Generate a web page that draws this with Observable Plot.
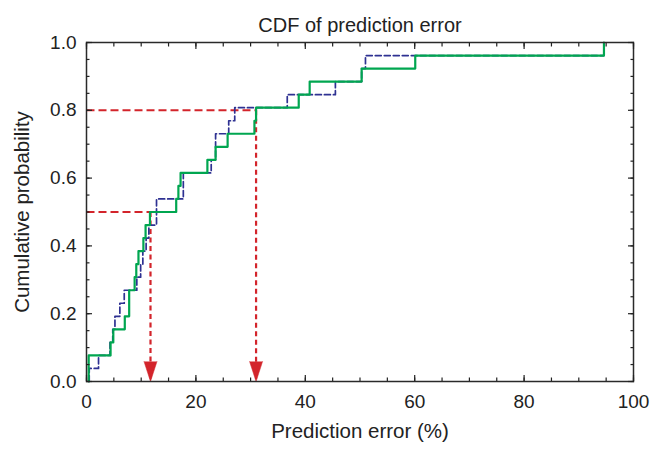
<!DOCTYPE html>
<html><head><meta charset="utf-8">
<script src="https://cdn.jsdelivr.net/npm/d3@7"></script>
<script src="https://cdn.jsdelivr.net/npm/@observablehq/plot@0.6"></script>
<style>body{margin:0;background:#fff} svg{display:block}</style>
</head><body><div id="chart"></div>
<script>
const title = "CDF of prediction error";
const xLabel = "Prediction error (%)";
const yLabel = "Cumulative probability";
const xTickValues = [0, 20, 40, 60, 80, 100];
const yTickValues = [0, 0.2, 0.4, 0.6, 0.8, 1.0];
const xMinorTicks = [0,5,10,15,20,25,30,35,40,45,50,55,60,65,70,75,80,85,90,95,100];
const yMinorTicks = [0,0.05,0.1,0.15,0.2,0.25,0.3,0.35,0.4,0.45,0.5,0.55,0.6,0.65,0.7,0.75,0.8,0.85,0.9,0.95,1.0];

// sorted prediction errors (%) of the two series (26 samples each)
const greenErrors = [0.4, 0.4, 4.4, 4.9, 7.0, 7.8, 7.8, 8.8, 9.1, 9.5, 10.4, 10.8, 11.6,
  16.4, 16.8, 17.2, 22.1, 23.6, 25.8, 30.7, 31.0, 38.8, 40.8, 50.3, 60.1, 94.6];
const blueErrors = [0.5, 2.2, 4.3, 4.8, 5.2, 6.1, 6.9, 9.2, 9.9, 10.3, 10.9, 11.4, 12.8,
  12.8, 17.7, 17.7, 22.8, 23.6, 23.6, 26.0, 27.1, 36.7, 45.5, 50.3, 51.0, 94.6];

// reading markers: probability level -> error
const markerProb = [0.5, 0.8];
const markerError = [11.7, 31.0];

const GREEN = "#00a650", BLUE = "#2e3192", RED = "#d3242b";
const FONT = "'Liberation Sans', Arial, Helvetica, sans-serif";

function cdf(errs) {
  const n = errs.length;
  const pts = [{x: errs[0], y: 0}];
  errs.forEach((e, i) => pts.push({x: e, y: (i + 1) / n}));
  return pts;
}
const markers = markerProb.map((p, i) => ({p, e: markerError[i]}));
const xMajor = xTickValues;
const yMajor = yTickValues;

const chart = Plot.plot({
  width: 655, height: 449,
  marginTop: 42, marginRight: 22, marginBottom: 68, marginLeft: 86,
  style: {fontFamily: FONT, fontSize: "19px", color: "#222", background: "#fff"},
  x: {domain: [0, 100], label: null},
  y: {domain: [0, 1], label: null},
  marks: [
    // red reading lines
    Plot.link(markers, {x1: 0, x2: "e", y1: "p", y2: "p", stroke: RED, strokeWidth: 2, strokeDasharray: "8,4"}),
    Plot.link(markers, {x1: "e", x2: "e", y1: "p", y2: 0, stroke: RED, strokeWidth: 2.2, strokeDasharray: "5,3.5"}),
    // CDF steps
    Plot.line(cdf(blueErrors), {x: "x", y: "y", curve: "step-after", stroke: BLUE, strokeWidth: 1.7, strokeDasharray: "6,3"}),
    Plot.line(cdf(greenErrors), {x: "x", y: "y", curve: "step-after", stroke: GREEN, strokeWidth: 2.2}),
    // arrow heads
    Plot.vector(markers, {x: "e", y: 0, length: 20, r: 6.5, rotate: 180, anchor: "end", shape: "spike", fill: RED, stroke: RED, strokeWidth: 0.5}),
    // frame + ticks
    Plot.frame({stroke: "#2a2a2a", strokeWidth: 1.5}),
    Plot.axisX({anchor: "bottom", ticks: xMinorTicks, tickSize: -3.5, text: null, label: null, strokeWidth: 1.2}),
    Plot.axisX({anchor: "top", ticks: xMinorTicks, tickSize: -3.5, text: null, label: null, strokeWidth: 1.2}),
    Plot.axisX({anchor: "bottom", ticks: xMajor, tickSize: -6, text: null, label: null, strokeWidth: 1.2}),
    Plot.axisX({anchor: "top", ticks: xMajor, tickSize: -6, text: null, label: null, strokeWidth: 1.2}),
    Plot.axisY({anchor: "left", ticks: yMinorTicks, tickSize: -3.5, text: null, label: null, strokeWidth: 1.2}),
    Plot.axisY({anchor: "right", ticks: yMinorTicks, tickSize: -3.5, text: null, label: null, strokeWidth: 1.2}),
    Plot.axisY({anchor: "left", ticks: yMajor, tickSize: -6, text: null, label: null, strokeWidth: 1.2}),
    Plot.axisY({anchor: "right", ticks: yMajor, tickSize: -6, text: null, label: null, strokeWidth: 1.2}),
    Plot.axisX({anchor: "bottom", ticks: xMajor, tickSize: 0, tickPadding: 13, tickFormat: d => String(d), label: null, fontSize: 19, fill: "#222"}),
    Plot.axisY({anchor: "left", ticks: yMajor, tickSize: 0, tickPadding: 10, tickFormat: d => d.toFixed(1), label: null, fontSize: 19, fill: "#222"}),
    // titles
    Plot.text([title], {frameAnchor: "top", dy: -25, fontSize: 20, fill: "#222"}),
    Plot.text([xLabel], {frameAnchor: "bottom", dy: 56, fontSize: 20.5, fill: "#222"}),
    Plot.text([yLabel], {frameAnchor: "left", dx: -64, rotate: -90, textAnchor: "middle", fontSize: 20.5, fill: "#222"})
  ]
});
document.getElementById("chart").appendChild(chart);
</script>
</body></html>
